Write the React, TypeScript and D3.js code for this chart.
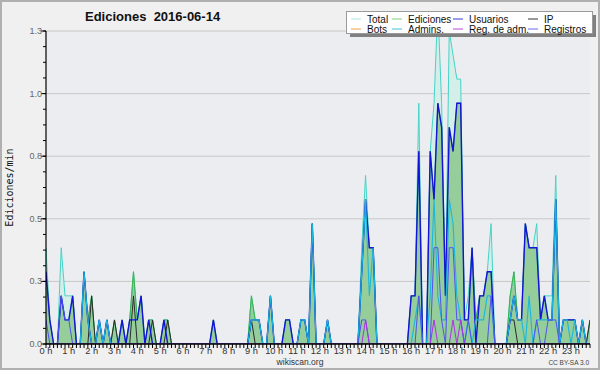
import React from "react";
import * as d3 from "d3";

// 10-minute bins, 144 per day (values in Ediciones/min)
const totalValues = [
  0.4, 0.1, 0, 0, 0.4, 0.2,
  0.2, 0.2, 0, 0, 0.3, 0.1,
  0.2, 0, 0.1, 0, 0.1, 0,
  0.1, 0, 0.1, 0, 0.1, 0.3,
  0.1, 0.2, 0, 0.1, 0.1, 0,
  0, 0.1, 0.1, 0, 0, 0,
  0, 0, 0, 0, 0, 0,
  0, 0, 0.1, 0, 0, 0,
  0, 0, 0, 0, 0, 0,
  0.2, 0.1, 0.1, 0, 0, 0.2,
  0, 0, 0, 0.1, 0.1, 0,
  0, 0.1, 0.1, 0, 0.5, 0,
  0, 0, 0.1, 0, 0, 0,
  0, 0, 0, 0, 0, 0.4,
  0.7, 0.4, 0.4, 0, 0, 0,
  0, 0, 0, 0, 0, 0,
  0.2, 0.2, 1.0, 0, 0, 0.8,
  1.0, 1.4, 1.0, 0.2, 1.3, 1.2,
  1.1, 1.1, 0.1, 0.2, 0.4, 0.1,
  0.2, 0.2, 0.3, 0.5, 0, 0,
  0, 0, 0.2, 0.3, 0.1, 0.1,
  0.5, 0.4, 0.4, 0.5, 0.1, 0.2,
  0.2, 0.2, 0.7, 0, 0.1, 0.1,
  0.1, 0.1, 0, 0.1, 0, 0.1,
];

const edicionesValues = [
  0.3, 0.1, 0, 0, 0.2, 0.1,
  0.1, 0.2, 0, 0, 0.3, 0.1,
  0.2, 0, 0.1, 0, 0.1, 0,
  0.1, 0, 0.1, 0, 0.1, 0.3,
  0.1, 0.2, 0, 0.1, 0.1, 0,
  0, 0.1, 0.1, 0, 0, 0,
  0, 0, 0, 0, 0, 0,
  0, 0, 0.1, 0, 0, 0,
  0, 0, 0, 0, 0, 0,
  0.2, 0.1, 0.1, 0, 0, 0.2,
  0, 0, 0, 0.1, 0.1, 0,
  0, 0.1, 0.1, 0, 0.5, 0,
  0, 0, 0.1, 0, 0, 0,
  0, 0, 0, 0, 0, 0.3,
  0.6, 0.4, 0.4, 0, 0, 0,
  0, 0, 0, 0, 0, 0,
  0.2, 0.2, 0.8, 0, 0, 0.8,
  0.6, 1.0, 0.9, 0.2, 0.9, 0.8,
  1.0, 1.0, 0.1, 0.1, 0.4, 0.1,
  0.2, 0.2, 0.3, 0.3, 0, 0,
  0, 0, 0.2, 0.3, 0.1, 0.1,
  0.5, 0.4, 0.4, 0.4, 0.1, 0.2,
  0.1, 0.1, 0.6, 0, 0.1, 0.1,
  0.1, 0.1, 0, 0.1, 0, 0.1,
];

const usuariosValues = [
  0.3, 0.1, 0, 0, 0.2, 0.1,
  0.1, 0.2, 0, 0, 0.3, 0.1,
  0, 0, 0.1, 0, 0.1, 0,
  0, 0, 0.1, 0, 0.1, 0.1,
  0.1, 0.2, 0, 0.1, 0, 0,
  0, 0.1, 0, 0, 0, 0,
  0, 0, 0, 0, 0, 0,
  0, 0, 0.1, 0, 0, 0,
  0, 0, 0, 0, 0, 0,
  0.1, 0.1, 0.1, 0, 0, 0.2,
  0, 0, 0, 0.1, 0.1, 0,
  0, 0.1, 0.1, 0, 0.5, 0,
  0, 0, 0.1, 0, 0, 0,
  0, 0, 0, 0, 0, 0.3,
  0.6, 0.4, 0.4, 0, 0, 0,
  0, 0, 0, 0, 0, 0,
  0.2, 0.2, 0.8, 0, 0, 0.8,
  0.6, 1.0, 0.9, 0.2, 0.9, 0.8,
  1.0, 1.0, 0.1, 0.1, 0.4, 0,
  0.2, 0.2, 0.3, 0.3, 0, 0,
  0, 0, 0.1, 0.2, 0.1, 0.1,
  0.5, 0.4, 0.4, 0.4, 0.1, 0.2,
  0.1, 0.1, 0.6, 0, 0.1, 0.1,
  0.1, 0.1, 0, 0.1, 0, 0,
];

const ipValues = [
  0, 0, 0, 0, 0, 0,
  0, 0, 0, 0, 0, 0,
  0.2, 0, 0, 0, 0, 0,
  0.1, 0, 0, 0, 0, 0.2,
  0, 0, 0, 0, 0.1, 0,
  0, 0, 0.1, 0, 0, 0,
  0, 0, 0, 0, 0, 0,
  0, 0, 0, 0, 0, 0,
  0, 0, 0, 0, 0, 0,
  0.1, 0, 0, 0, 0, 0,
  0, 0, 0, 0, 0, 0,
  0, 0, 0, 0, 0, 0,
  0, 0, 0, 0, 0, 0,
  0, 0, 0, 0, 0, 0,
  0, 0, 0, 0, 0, 0,
  0, 0, 0, 0, 0, 0,
  0, 0, 0, 0, 0, 0,
  0, 0, 0, 0, 0, 0,
  0, 0, 0, 0, 0, 0,
  0, 0, 0, 0, 0, 0,
  0, 0, 0.1, 0.1, 0, 0,
  0, 0, 0, 0, 0, 0,
  0, 0, 0, 0, 0, 0,
  0, 0, 0, 0, 0, 0.1,
];

const botsValues = [
  0, 0, 0, 0, 0, 0, 0, 0, 0, 0, 0, 0, 0, 0, 0, 0, 0, 0, 0, 0, 0, 0, 0, 0,
  0, 0, 0, 0, 0, 0, 0, 0, 0, 0, 0, 0, 0, 0, 0, 0, 0, 0, 0, 0, 0, 0, 0, 0,
  0, 0, 0, 0, 0, 0, 0, 0, 0, 0, 0, 0, 0, 0, 0, 0, 0, 0, 0, 0, 0, 0, 0, 0,
  0, 0, 0, 0, 0, 0, 0, 0, 0, 0, 0, 0, 0, 0, 0, 0, 0, 0, 0, 0, 0, 0, 0, 0,
  0, 0, 0, 0, 0, 0, 0, 0, 0, 0, 0, 0, 0, 0, 0, 0, 0, 0, 0, 0, 0, 0, 0, 0,
  0, 0, 0, 0, 0, 0, 0, 0, 0, 0, 0, 0, 0, 0, 0, 0, 0, 0, 0, 0, 0, 0, 0, 0,
];

const adminsValues = [
  0, 0, 0, 0, 0, 0,
  0, 0, 0, 0, 0.3, 0.1,
  0, 0, 0.1, 0, 0.1, 0,
  0, 0, 0, 0, 0, 0,
  0, 0, 0, 0, 0, 0,
  0, 0, 0, 0, 0, 0,
  0, 0, 0, 0, 0, 0,
  0, 0, 0, 0, 0, 0,
  0, 0, 0, 0, 0, 0,
  0.1, 0.1, 0.1, 0, 0, 0.2,
  0, 0, 0, 0, 0, 0,
  0, 0.1, 0.1, 0, 0.5, 0,
  0, 0, 0.1, 0, 0, 0,
  0, 0, 0, 0, 0, 0.3,
  0.6, 0.2, 0.4, 0, 0, 0,
  0, 0, 0, 0, 0, 0,
  0, 0.1, 0.2, 0, 0, 0.2,
  0.6, 0.2, 0.1, 0.1, 0.6, 0.5,
  0.2, 0.1, 0, 0.1, 0, 0.1,
  0.1, 0.1, 0.2, 0.2, 0, 0,
  0, 0, 0.1, 0.2, 0.1, 0.1,
  0, 0.2, 0, 0.1, 0.1, 0.1,
  0.1, 0.1, 0.6, 0, 0.1, 0.1,
  0, 0.1, 0, 0.1, 0, 0,
];

const registrosValues = [
  0.1, 0, 0, 0, 0.2, 0.1,
  0.1, 0, 0, 0, 0, 0,
  0, 0, 0, 0, 0, 0,
  0, 0, 0, 0, 0, 0,
  0, 0, 0, 0, 0, 0,
  0, 0, 0, 0, 0, 0,
  0, 0, 0, 0, 0, 0,
  0, 0, 0, 0, 0, 0,
  0, 0, 0, 0, 0, 0,
  0, 0, 0, 0, 0, 0,
  0, 0, 0, 0, 0, 0,
  0, 0, 0, 0, 0, 0,
  0, 0, 0, 0, 0, 0,
  0, 0, 0, 0, 0, 0.1,
  0.1, 0, 0, 0, 0, 0,
  0, 0, 0, 0, 0, 0,
  0, 0, 0.2, 0, 0, 0,
  0.4, 0.4, 0.1, 0, 0.4, 0.4,
  0.1, 0.1, 0, 0.1, 0, 0,
  0, 0, 0, 0.2, 0, 0,
  0, 0, 0, 0, 0, 0,
  0, 0, 0, 0.1, 0, 0,
  0.1, 0.1, 0.1, 0, 0, 0,
  0, 0, 0, 0, 0, 0,
];

const regAdmValues = [
  0, 0, 0, 0, 0, 0, 0, 0, 0, 0, 0, 0, 0, 0, 0, 0, 0, 0, 0, 0, 0, 0, 0, 0,
  0, 0, 0, 0, 0, 0, 0, 0, 0, 0, 0, 0, 0, 0, 0, 0, 0, 0, 0, 0, 0, 0, 0, 0,
  0, 0, 0, 0, 0, 0, 0, 0, 0, 0, 0, 0, 0, 0, 0, 0, 0, 0, 0, 0, 0, 0, 0, 0,
  0, 0, 0, 0, 0, 0, 0, 0, 0, 0, 0, 0, 0.1, 0, 0, 0, 0, 0, 0, 0, 0, 0, 0, 0,
  0, 0, 0, 0, 0, 0, 0.1, 0, 0, 0, 0, 0.1, 0, 0.1, 0, 0, 0, 0, 0, 0, 0, 0, 0, 0,
  0, 0, 0, 0, 0, 0, 0, 0, 0, 0, 0, 0, 0, 0, 0, 0, 0, 0, 0, 0, 0, 0, 0, 0,
];

const hourLabels = [
  "0 h", "1 h", "2 h", "3 h", "4 h", "5 h", "6 h", "7 h", "8 h", "9 h", "10 h", "11 h",
  "12 h", "13 h", "14 h", "15 h", "16 h", "17 h", "18 h", "19 h", "20 h", "21 h", "22 h", "23 h",
];
const yTickValues = [0, 0.26, 0.52, 0.78, 1.04, 1.3];

const legendNames = ["Total", "Ediciones", "Usuarios", "IP", "Bots", "Admins.", "Reg. de adm.", "Registros"];
const legendColors = ["#a6e6e0", "#7fd07f", "#3a3ae0", "#333333", "#f0a040", "#3cc4e0", "#c040e0", "#6a6af0"];

const FONT = "'Liberation Sans', Arial, sans-serif";

export default function App() {
  const left = 46, right = 590, top = 31, bottom = 344;
  const n = totalValues.length;
  const x = d3.scaleLinear().domain([0, n - 1]).range([left, right]);
  const y = d3.scaleLinear().domain([0, 1.3]).range([bottom, top]);

  const line = d3.line<number>().x((_, i) => x(i)).y((d) => y(d));
  const area = d3.area<number>().x((_, i) => x(i)).y0(y(0)).y1((d) => y(d));

  const minorY = d3.range(0, 1.3 + 1e-9, 0.065);
  const binsPerHour = 6;

  const lineSeries = [
    { v: totalValues, c: "#46d4c6", w: 1 },
    { v: edicionesValues, c: "#3cb04a", w: 1 },
    { v: botsValues, c: "#f0a040", w: 1 },
    { v: ipValues, c: "#2a2a2a", w: 1 },
    { v: usuariosValues, c: "#1414d8", w: 1.4 },
    { v: adminsValues, c: "#1cb8dc", w: 1.1 },
    { v: registrosValues, c: "#5252f0", w: 1 },
    { v: regAdmValues, c: "#b030e8", w: 1 },
  ];

  const legendCols = [351, 392, 453, 528];

  return (
    <svg
      width={600}
      height={370}
      style={{ position: "absolute", left: 0, top: 0, display: "block" }}
      fontFamily={FONT}
    >
      <defs>
        <clipPath id="plotClip">
          <rect x={left} y={top} width={right - left} height={bottom - top} />
        </clipPath>
      </defs>
      <rect x={0} y={0} width={600} height={370} fill="#f0f0f0" />
      <rect x={1} y={1} width={598} height={368} fill="none" stroke="#b0b0b0" strokeWidth={2} />
      <rect x={left} y={top} width={right - left} height={bottom - top} fill="#ebedf0" />

      {yTickValues.filter((t) => t > 0).map((t) => (
        <line key={"g" + t} x1={left} x2={right} y1={y(t)} y2={y(t)} stroke="#c8c8c8" strokeWidth={1} />
      ))}

      <g clipPath="url(#plotClip)">
        <path d={area(totalValues) || ""} fill="#d4eee9" />
        <path d={area(edicionesValues) || ""} fill="#95cd9b" />
        {lineSeries.map((s, k) => (
          <path key={"l" + k} d={line(s.v) || ""} fill="none" stroke={s.c} strokeWidth={s.w} strokeLinejoin="miter" />
        ))}
      </g>

      {/* Y axis */}
      <line x1={left} x2={left} y1={top} y2={bottom + 0.5} stroke="#000" strokeWidth={1.2} />
      {minorY.map((t, i) => (
        <line key={"my" + i} x1={left - 3} x2={left} y1={y(t)} y2={y(t)} stroke="#000" strokeWidth={1} />
      ))}
      {yTickValues.map((t) => (
        <g key={"yt" + t}>
          <line x1={left - 5} x2={left} y1={y(t)} y2={y(t)} stroke="#000" strokeWidth={1} />
          <text x={left - 4} y={y(t) + 3} fontSize={9} fill="#666" textAnchor="end">
            {d3.format(".1f")(t)}
          </text>
        </g>
      ))}

      {/* X axis */}
      <line x1={left} x2={right} y1={bottom} y2={bottom} stroke="#000" strokeWidth={1.5} />
      {d3.range(0, n).map((i) => (
        <line key={"mx" + i} x1={x(i)} x2={x(i)} y1={bottom} y2={bottom + 4} stroke="#000" strokeWidth={1} />
      ))}
      {hourLabels.map((lab, h) => (
        <text key={"xl" + h} x={x(h * binsPerHour)} y={354} fontSize={9.3} fill="#333" textAnchor="middle">
          {lab}
        </text>
      ))}

      {/* Titles */}
      <text x={85} y={21} fontSize={13} fontWeight="bold" fill="#111" style={{ whiteSpace: "pre" }}>
        {"Ediciones  2016-06-14"}
      </text>
      <text
        transform={`translate(13, ${(top + bottom) / 2}) rotate(-90)`}
        fontSize={10}
        fontFamily="'DejaVu Sans Mono', 'Liberation Mono', monospace"
        fill="#111"
        textAnchor="middle"
      >
        Ediciones/min
      </text>
      <text x={300} y={364.5} fontSize={8.5} fill="#333" textAnchor="middle">
        wikiscan.org
      </text>
      <text x={589} y={365} fontSize={6.5} fill="#444" textAnchor="end">
        CC BY-SA 3.0
      </text>

      {/* Legend */}
      <rect x={350} y={15} width={246} height={22} fill="#808080" />
      <rect x={346.5} y={11.5} width={246} height={22} fill="#ffffff" stroke="#9a9a9a" strokeWidth={1} />
      {legendNames.map((name, i) => {
        const col = i % 4;
        const row = Math.floor(i / 4);
        const lx = legendCols[col];
        const ly = 19 + row * 10;
        return (
          <g key={"lg" + i}>
            <line x1={lx} x2={lx + 10} y1={ly} y2={ly} stroke={legendColors[i]} strokeWidth={1} />
            <text x={lx + 16} y={ly + 3.5} fontSize={10} fill="#111">
              {name}
            </text>
          </g>
        );
      })}
    </svg>
  );
}
